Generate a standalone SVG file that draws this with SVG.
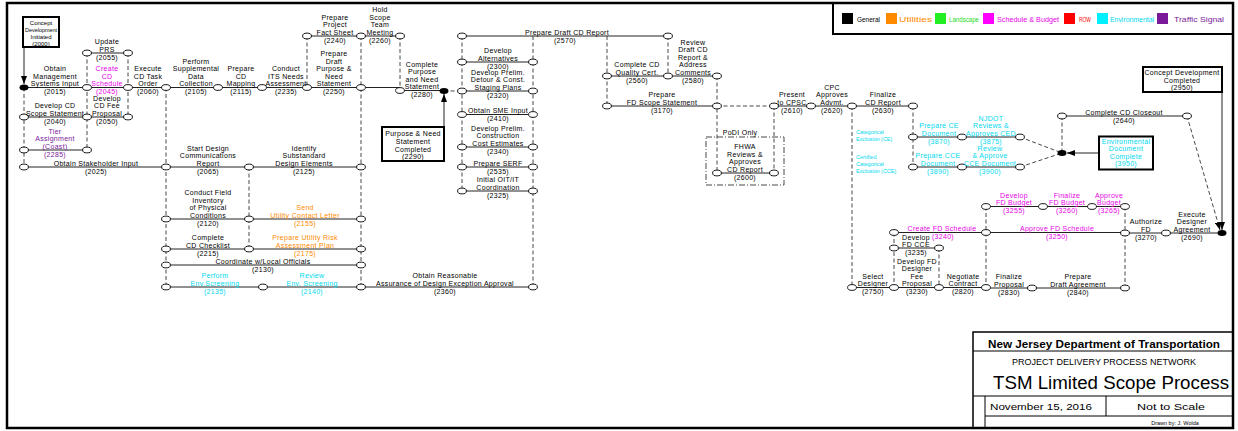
<svg xmlns="http://www.w3.org/2000/svg" width="1238" height="431" viewBox="0 0 1238 431">
<style>
text{font-family:"Liberation Sans",Arial,sans-serif}
.t{font-size:7px;letter-spacing:0.3px;text-anchor:middle;fill:#000}
.s{font-size:6px;text-anchor:middle;fill:#000}
.n{font-size:5.5px;fill:#00d8ee}
.m{fill:#e600e6}.o{fill:#ff8a00}.c{fill:#00d8ee}.p{fill:#7a1a9a}
.act{stroke:#222;stroke-width:1;fill:none}
.dep{stroke:#333;stroke-width:0.9;stroke-dasharray:4 2.5;fill:none}
.ev{fill:#fff;stroke:#000;stroke-width:0.9}
.dot{fill:#000}
.box{fill:#fff;stroke:#000;stroke-width:2}
.lg{font-size:7px}
</style>
<defs>
<marker id="ah" viewBox="0 0 8 6" refX="8" refY="3" markerWidth="8" markerHeight="6" markerUnits="userSpaceOnUse" orient="auto"><path d="M0,0 L8,3 L0,6 z" fill="#000"/></marker>
</defs>
<rect width="1238" height="431" fill="#fff"/>
<rect x="7" y="3" width="1226" height="425" fill="none" stroke="#000" stroke-width="2.5"/>
<g id="legend">
<rect x="833" y="3" width="400" height="31" fill="none" stroke="#000" stroke-width="2"/>
<rect x="842" y="13" width="11" height="11" fill="#000"/><text class="lg" x="857" y="21.5" textLength="23" lengthAdjust="spacingAndGlyphs">General</text>
<rect x="886" y="13" width="11" height="11" fill="#ff8a00"/><text class="lg o" x="899" y="21.5" textLength="33" lengthAdjust="spacingAndGlyphs">Utilities</text>
<rect x="935" y="13" width="11" height="11" fill="#22ee22"/><text class="lg" fill="#22dd22" x="949" y="21.5" textLength="30" lengthAdjust="spacingAndGlyphs">Landscape</text>
<rect x="983" y="13" width="11" height="11" fill="#ff00ff"/><text class="lg m" x="997" y="21.5" textLength="62" lengthAdjust="spacingAndGlyphs">Schedule &amp; Budget</text>
<rect x="1064" y="13" width="11" height="11" fill="#ff0000"/><text class="lg" fill="#ff0000" x="1079" y="21.5" textLength="12" lengthAdjust="spacingAndGlyphs">ROW</text>
<rect x="1097" y="13" width="11" height="11" fill="#00f0ff"/><text class="lg c" x="1110" y="21.5" textLength="44" lengthAdjust="spacingAndGlyphs">Environmental</text>
<rect x="1157" y="13" width="11" height="11" fill="#7a1a9a"/><text class="lg p" x="1174" y="21.5" textLength="50" lengthAdjust="spacingAndGlyphs">Traffic Signal</text>
</g>
<g id="connectors">
<line class="act" x1="24" y1="47" x2="24" y2="84" marker-end="url(#ah)"/>
<line class="act" x1="444" y1="127" x2="444" y2="94" marker-end="url(#ah)"/>
<line class="act" x1="1099" y1="153" x2="1067" y2="153" marker-end="url(#ah)"/>
<line class="act" x1="1222" y1="92" x2="1222" y2="230" marker-end="url(#ah)"/>
<line class="dep" x1="1187" y1="116" x2="1220" y2="230" marker-end="url(#ah)"/>
<path class="act" d="M24,87.5H400 M24,117H128 M24,150H87 M24,167H361 M87,53H128 M307,36H400 M400,90.5H444 M166,219H361 M166,249H361 M166,265H361 M166,287H533"/>
<path class="act" d="M462,36H668 M462,62H533 M462,91H533 M462,114.5H533 M462,147H533 M462,167H533 M462,191H533 M607,76H717 M607,106H717 M774,106H913 M717,173H774"/>
<path class="act" d="M913,137H1020 M913,167H1020 M1062,116H1187 M852,287.5H986 M894,232.5H1125 M894,248H939 M986,206.5H1125 M1125,233H1222 M986,288H1125"/>
<path class="dep" d="M24,87.5V167 M87,53V150 M128,53V117 M166,87.5V287 M249,167V249 M307,36V87.5 M361,36V287 M400,36V90.5 M444,91H462 M462,36V191 M533,36V287 M607,36V106 M668,36V76 M717,76V173 M717,106H774 M774,106V173 M852,106V287.5 M913,106V167 M1020,137L1062,153 M1020,167L1062,153 M1062,116V153 M894,232.5V287.5 M939,248V287.5 M986,206.5V287.5 M1125,206.5V288"/>
<rect x="706" y="137" width="78" height="48" fill="none" stroke="#333" stroke-width="0.9" stroke-dasharray="6 2 1 2"/>
</g>
<g id="events">
<ellipse class="dot" cx="24" cy="87.5" rx="4.5" ry="3"/>
<ellipse class="dot" cx="444" cy="91" rx="4.5" ry="3"/>
<ellipse class="dot" cx="1062" cy="153" rx="4.5" ry="3"/>
<ellipse class="dot" cx="1222" cy="233" rx="4.5" ry="3"/>
<g class="ev">
<ellipse cx="87" cy="53" rx="4.4" ry="2.9"/><ellipse cx="128" cy="53" rx="4.4" ry="2.9"/>
<ellipse cx="87" cy="87.5" rx="4.4" ry="2.9"/><ellipse cx="128" cy="87.5" rx="4.4" ry="2.9"/><ellipse cx="166" cy="87.5" rx="4.4" ry="2.9"/>
<ellipse cx="24" cy="117" rx="4.4" ry="2.9"/><ellipse cx="87" cy="117" rx="4.4" ry="2.9"/><ellipse cx="128" cy="117" rx="4.4" ry="2.9"/>
<ellipse cx="24" cy="150" rx="4.4" ry="2.9"/><ellipse cx="87" cy="150" rx="4.4" ry="2.9"/>
<ellipse cx="24" cy="167" rx="4.4" ry="2.9"/><ellipse cx="166" cy="167" rx="4.4" ry="2.9"/>
<ellipse cx="218" cy="87.5" rx="4.4" ry="2.9"/><ellipse cx="262" cy="87.5" rx="4.4" ry="2.9"/><ellipse cx="307" cy="87.5" rx="4.4" ry="2.9"/><ellipse cx="361" cy="87.5" rx="4.4" ry="2.9"/>
<ellipse cx="307" cy="36" rx="4.4" ry="2.9"/><ellipse cx="361" cy="36" rx="4.4" ry="2.9"/><ellipse cx="400" cy="36" rx="4.4" ry="2.9"/><ellipse cx="400" cy="90.5" rx="4.4" ry="2.9"/>
<ellipse cx="249" cy="167" rx="4.4" ry="2.9"/><ellipse cx="361" cy="167" rx="4.4" ry="2.9"/>
<ellipse cx="166" cy="219" rx="4.4" ry="2.9"/><ellipse cx="249" cy="219" rx="4.4" ry="2.9"/><ellipse cx="361" cy="219" rx="4.4" ry="2.9"/>
<ellipse cx="166" cy="249" rx="4.4" ry="2.9"/><ellipse cx="249" cy="249" rx="4.4" ry="2.9"/><ellipse cx="361" cy="249" rx="4.4" ry="2.9"/>
<ellipse cx="166" cy="265" rx="4.4" ry="2.9"/><ellipse cx="361" cy="265" rx="4.4" ry="2.9"/>
<ellipse cx="166" cy="287" rx="4.4" ry="2.9"/><ellipse cx="263" cy="287" rx="4.4" ry="2.9"/><ellipse cx="361" cy="287" rx="4.4" ry="2.9"/><ellipse cx="533" cy="287" rx="4.4" ry="2.9"/>
<ellipse cx="462" cy="36" rx="4.4" ry="2.9"/><ellipse cx="668" cy="36" rx="4.4" ry="2.9"/>
<ellipse cx="462" cy="62" rx="4.4" ry="2.9"/><ellipse cx="533" cy="62" rx="4.4" ry="2.9"/>
<ellipse cx="462" cy="91" rx="4.4" ry="2.9"/><ellipse cx="533" cy="91" rx="4.4" ry="2.9"/>
<ellipse cx="462" cy="114.5" rx="4.4" ry="2.9"/><ellipse cx="533" cy="114.5" rx="4.4" ry="2.9"/>
<ellipse cx="462" cy="147" rx="4.4" ry="2.9"/><ellipse cx="533" cy="147" rx="4.4" ry="2.9"/>
<ellipse cx="462" cy="167" rx="4.4" ry="2.9"/><ellipse cx="533" cy="167" rx="4.4" ry="2.9"/>
<ellipse cx="462" cy="191" rx="4.4" ry="2.9"/><ellipse cx="533" cy="191" rx="4.4" ry="2.9"/>
<ellipse cx="607" cy="76" rx="4.4" ry="2.9"/><ellipse cx="668" cy="76" rx="4.4" ry="2.9"/><ellipse cx="717" cy="76" rx="4.4" ry="2.9"/>
<ellipse cx="607" cy="106" rx="4.4" ry="2.9"/><ellipse cx="717" cy="106" rx="4.4" ry="2.9"/><ellipse cx="774" cy="106" rx="4.4" ry="2.9"/><ellipse cx="811" cy="106" rx="4.4" ry="2.9"/><ellipse cx="852" cy="106" rx="4.4" ry="2.9"/><ellipse cx="913" cy="106" rx="4.4" ry="2.9"/>
<ellipse cx="717" cy="173" rx="4.4" ry="2.9"/><ellipse cx="774" cy="173" rx="4.4" ry="2.9"/>
<ellipse cx="913" cy="137" rx="4.4" ry="2.9"/><ellipse cx="962" cy="137" rx="4.4" ry="2.9"/><ellipse cx="1020" cy="137" rx="4.4" ry="2.9"/>
<ellipse cx="913" cy="167" rx="4.4" ry="2.9"/><ellipse cx="962" cy="167" rx="4.4" ry="2.9"/><ellipse cx="1020" cy="167" rx="4.4" ry="2.9"/>
<ellipse cx="1062" cy="116" rx="4.4" ry="2.9"/><ellipse cx="1187" cy="116" rx="4.4" ry="2.9"/>
<ellipse cx="852" cy="287.5" rx="4.4" ry="2.9"/><ellipse cx="894" cy="287.5" rx="4.4" ry="2.9"/><ellipse cx="939" cy="287.5" rx="4.4" ry="2.9"/><ellipse cx="986" cy="287.5" rx="4.4" ry="2.9"/>
<ellipse cx="894" cy="232.5" rx="4.4" ry="2.9"/><ellipse cx="986" cy="232.5" rx="4.4" ry="2.9"/>
<ellipse cx="894" cy="248" rx="4.4" ry="2.9"/><ellipse cx="939" cy="248" rx="4.4" ry="2.9"/>
<ellipse cx="986" cy="206.5" rx="4.4" ry="2.9"/><ellipse cx="1043" cy="206.5" rx="4.4" ry="2.9"/><ellipse cx="1092" cy="206.5" rx="4.4" ry="2.9"/><ellipse cx="1125" cy="206.5" rx="4.4" ry="2.9"/>
<ellipse cx="1125" cy="233" rx="4.4" ry="2.9"/><ellipse cx="1166" cy="233" rx="4.4" ry="2.9"/>
<ellipse cx="1032" cy="288" rx="4.4" ry="2.9"/><ellipse cx="1125" cy="288" rx="4.4" ry="2.9"/>
</g>
</g>
<g id="m2000"><rect class="box" x="23" y="17" width="36" height="30"/>
<text class="s" x="41" y="25">Concept</text><text class="s" x="41" y="32" textLength="32" lengthAdjust="spacingAndGlyphs">Development</text><text class="s" x="41" y="39">Initiated</text><text class="s" x="41" y="46">(2000)</text></g>
<g id="m2290"><rect class="box" x="382" y="127" width="62" height="34"/>
<text class="t" x="413" y="135.5">Purpose &amp; Need</text><text class="t" x="413" y="143.5">Statement</text><text class="t" x="413" y="151.5">Completed</text><text class="t" x="413" y="159">(2290)</text></g>
<g id="m3950"><rect class="box" x="1099" y="136.5" width="54" height="33"/>
<text class="t c" x="1126" y="143.5">Environmental</text><text class="t c" x="1126" y="151">Document</text><text class="t c" x="1126" y="158.5">Complete</text><text class="t c" x="1126" y="166">(3950)</text></g>
<g id="m2950"><rect class="box" x="1143" y="67" width="79" height="25"/>
<text class="t" x="1182" y="74.5">Concept Development</text><text class="t" x="1182" y="82.5">Completed</text><text class="t" x="1182" y="90">(2950)</text></g>
<g id="a2015"><text class="t" x="55" y="71">Obtain</text><text class="t" x="55" y="78.5">Management</text><text class="t" x="55" y="86">Systems Input</text><text class="t" x="55" y="94">(2015)</text></g>
<g id="a2040"><text class="t" x="55" y="108">Develop CD</text><text class="t" x="55" y="115.5">Scope Statement</text><text class="t" x="55" y="123.5">(2040)</text></g>
<g id="a2285"><text class="t p" x="55" y="133.5">Tier</text><text class="t p" x="55" y="141">Assignment</text><text class="t p" x="55" y="148.5">(Coast)</text><text class="t p" x="55" y="156.5">(2285)</text></g>
<g id="a2025"><text class="t" x="96" y="165.5">Obtain Stakeholder Input</text><text class="t" x="96" y="173.5">(2025)</text></g>
<g id="a2055"><text class="t" x="107" y="44">Update</text><text class="t" x="107" y="51.5">PRS</text><text class="t" x="107" y="59.5">(2055)</text></g>
<g id="a2045"><text class="t m" x="107" y="71">Create</text><text class="t m" x="107" y="78.5">CD</text><text class="t m" x="107" y="86">Schedule</text><text class="t m" x="107" y="94">(2045)</text></g>
<g id="a2050"><text class="t" x="107" y="100.5">Develop</text><text class="t" x="107" y="108">CD Fee</text><text class="t" x="107" y="115.5">Proposal</text><text class="t" x="107" y="123.5">(2050)</text></g>
<g id="a2060"><text class="t" x="148" y="71">Execute</text><text class="t" x="148" y="78.5">CD Task</text><text class="t" x="148" y="86">Order</text><text class="t" x="148" y="94">(2060)</text></g>
<g id="a2105"><text class="t" x="196" y="63.5">Perform</text><text class="t" x="196" y="71">Supplemental</text><text class="t" x="196" y="78.5">Data</text><text class="t" x="196" y="86">Collection</text><text class="t" x="196" y="94">(2105)</text></g>
<g id="a2115"><text class="t" x="241" y="71">Prepare</text><text class="t" x="241" y="78.5">CD</text><text class="t" x="241" y="86">Mapping</text><text class="t" x="241" y="94">(2115)</text></g>
<g id="a2235"><text class="t" x="286" y="71">Conduct</text><text class="t" x="286" y="78.5">ITS Needs</text><text class="t" x="286" y="86">Assessment</text><text class="t" x="286" y="94">(2235)</text></g>
<g id="a2250"><text class="t" x="334" y="56">Prepare</text><text class="t" x="334" y="63.5">Draft</text><text class="t" x="334" y="71">Purpose &amp;</text><text class="t" x="334" y="78.5">Need</text><text class="t" x="334" y="86">Statement</text><text class="t" x="334" y="94">(2250)</text></g>
<g id="a2240"><text class="t" x="335" y="19.5">Prepare</text><text class="t" x="335" y="27">Project</text><text class="t" x="335" y="34.5">Fact Sheet</text><text class="t" x="335" y="42.5">(2240)</text></g>
<g id="a2260"><text class="t" x="380" y="12">Hold</text><text class="t" x="380" y="19.5">Scope</text><text class="t" x="380" y="27">Team</text><text class="t" x="380" y="34.5">Meeting</text><text class="t" x="380" y="42.5">(2260)</text></g>
<g id="a2280"><text class="t" x="422" y="66.5">Complete</text><text class="t" x="422" y="74">Purpose</text><text class="t" x="422" y="81.5">and Need</text><text class="t" x="422" y="89">Statement</text><text class="t" x="422" y="97">(2280)</text></g>
<g id="a2065"><text class="t" x="208" y="150.5">Start Design</text><text class="t" x="208" y="158">Communications</text><text class="t" x="208" y="165.5">Report</text><text class="t" x="208" y="173.5">(2065)</text></g>
<g id="a2125"><text class="t" x="304" y="150.5">Identify</text><text class="t" x="304" y="158">Substandard</text><text class="t" x="304" y="165.5">Design Elements</text><text class="t" x="304" y="173.5">(2125)</text></g>
<g id="a2120"><text class="t" x="208" y="195">Conduct Field</text><text class="t" x="208" y="202.5">Inventory</text><text class="t" x="208" y="210">of Physical</text><text class="t" x="208" y="217.5">Conditions</text><text class="t" x="208" y="225.5">(2120)</text></g>
<g id="a2155"><text class="t o" x="305" y="210">Send</text><text class="t o" x="305" y="217.5">Utility Contact Letter</text><text class="t o" x="305" y="225.5">(2155)</text></g>
<g id="a2215"><text class="t" x="208" y="240">Complete</text><text class="t" x="208" y="247.5">CD Checklist</text><text class="t" x="208" y="255.5">(2215)</text></g>
<g id="a2175"><text class="t o" x="305" y="240">Prepare Utility Risk</text><text class="t o" x="305" y="247.5">Assessment Plan</text><text class="t o" x="305" y="255.5">(2175)</text></g>
<g id="a2130"><text class="t" x="263" y="263.5">Coordinate w/Local Officials</text><text class="t" x="263" y="271.5">(2130)</text></g>
<g id="a2135"><text class="t c" x="215" y="278">Perform</text><text class="t c" x="215" y="285.5">Env.Screening</text><text class="t c" x="215" y="293.5">(2135)</text></g>
<g id="a2140"><text class="t c" x="312" y="278">Review</text><text class="t c" x="312" y="285.5">Env. Screening</text><text class="t c" x="312" y="293.5">(2140)</text></g>
<g id="a2360"><text class="t" x="445" y="278">Obtain Reasonable</text><text class="t" x="445" y="285.5">Assurance of Design Exception Approval</text><text class="t" x="445" y="293.5">(2360)</text></g>
<g id="a2570"><text class="t" x="567" y="34.5">Prepare Draft CD Report</text><text class="t" x="565" y="42.5">(2570)</text></g>
<g id="a2300"><text class="t" x="498" y="53">Develop</text><text class="t" x="498" y="60.5">Alternatives</text><text class="t" x="498" y="68.5">(2300)</text></g>
<g id="a2320"><text class="t" x="498" y="74.5">Develop Prelim.</text><text class="t" x="498" y="82">Detour &amp; Const.</text><text class="t" x="498" y="89.5">Staging Plans</text><text class="t" x="498" y="97.5">(2320)</text></g>
<g id="a2410"><text class="t" x="498" y="113">Obtain SME Input</text><text class="t" x="498" y="121">(2410)</text></g>
<g id="a2340"><text class="t" x="498" y="130.5">Develop Prelim.</text><text class="t" x="498" y="138">Construction</text><text class="t" x="498" y="145.5">Cost Estimates</text><text class="t" x="498" y="153.5">(2340)</text></g>
<g id="a2535"><text class="t" x="498" y="165.5">Prepare SERF</text><text class="t" x="498" y="173.5">(2535)</text></g>
<g id="a2325"><text class="t" x="498" y="182">Initial OIT/IT</text><text class="t" x="498" y="189.5">Coordination</text><text class="t" x="498" y="197.5">(2325)</text></g>
<g id="a2560"><text class="t" x="637" y="67">Complete CD</text><text class="t" x="637" y="74.5">Quality Cert.</text><text class="t" x="637" y="82.5">(2560)</text></g>
<g id="a2580"><text class="t" x="693" y="44.5">Review</text><text class="t" x="693" y="52">Draft CD</text><text class="t" x="693" y="59.5">Report &amp;</text><text class="t" x="693" y="67">Address</text><text class="t" x="693" y="74.5">Comments</text><text class="t" x="693" y="82.5">(2580)</text></g>
<g id="a3170"><text class="t" x="662" y="97">Prepare</text><text class="t" x="662" y="104.5">FD Scope Statement</text><text class="t" x="662" y="112.5">(3170)</text></g>
<g id="a2600"><text class="t" x="740" y="135">PoDI Only</text><text class="t" x="745" y="149">FHWA</text><text class="t" x="745" y="156.5">Reviews &amp;</text><text class="t" x="745" y="164">Approves</text><text class="t" x="745" y="171.5">CD Report</text><text class="t" x="745" y="179.5">(2600)</text></g>
<g id="a2610"><text class="t" x="792" y="97">Present</text><text class="t" x="792" y="104.5">to CPSC</text><text class="t" x="792" y="112.5">(2610)</text></g>
<g id="a2620"><text class="t" x="832" y="89.5">CPC</text><text class="t" x="832" y="97">Approves</text><text class="t" x="832" y="104.5">Advmt.</text><text class="t" x="832" y="112.5">(2620)</text></g>
<g id="a2630"><text class="t" x="883" y="97">Finalize</text><text class="t" x="883" y="104.5">CD Report</text><text class="t" x="883" y="112.5">(2630)</text></g>
<g id="ce"><text class="n" x="856" y="134">Categorical</text><text class="n" x="856" y="141">Exclusion (CE)</text><text class="n" x="856" y="159">Certified</text><text class="n" x="856" y="166">Categorical</text><text class="n" x="856" y="173">Exclusion (CCE)</text></g>
<g id="a3870"><text class="t c" x="939" y="128">Prepare CE</text><text class="t c" x="939" y="135.5">Document</text><text class="t c" x="939" y="143.5">(3870)</text></g>
<g id="a3875"><text class="t c" x="991" y="120.5">NJDOT</text><text class="t c" x="991" y="128">Reviews &amp;</text><text class="t c" x="991" y="135.5">Approves CED</text><text class="t c" x="991" y="143.5">(3875)</text></g>
<g id="a3890"><text class="t c" x="938" y="158">Prepare CCE</text><text class="t c" x="938" y="165.5">Document</text><text class="t c" x="938" y="173.5">(3890)</text></g>
<g id="a3900"><text class="t c" x="990" y="150.5">Review</text><text class="t c" x="990" y="158">&amp; Approve</text><text class="t c" x="990" y="165.5">CCE Document</text><text class="t c" x="990" y="173.5">(3900)</text></g>
<g id="a2640"><text class="t" x="1124" y="114.5">Complete CD Closeout</text><text class="t" x="1124" y="122.5">(2640)</text></g>
<g id="a2750"><text class="t" x="873" y="278.5">Select</text><text class="t" x="873" y="286">Designer</text><text class="t" x="873" y="294">(2750)</text></g>
<g id="a3240"><text class="t m" x="942" y="231">Create FD Schedule</text><text class="t m" x="943" y="239">(3240)</text></g>
<g id="a3235"><text class="t" x="916" y="239.5">Develop</text><text class="t" x="916" y="246.5">FD CCE</text><text class="t" x="916" y="254.5">(3235)</text></g>
<g id="a3230"><text class="t" x="917" y="263.5">Develop FD</text><text class="t" x="917" y="271">Designer</text><text class="t" x="917" y="278.5">Fee</text><text class="t" x="917" y="286">Proposal</text><text class="t" x="917" y="294">(3230)</text></g>
<g id="a2820"><text class="t" x="963" y="278.5">Negotiate</text><text class="t" x="963" y="286">Contract</text><text class="t" x="963" y="294">(2820)</text></g>
<g id="a3255"><text class="t m" x="1014" y="197.5">Develop</text><text class="t m" x="1014" y="205">FD Budget</text><text class="t m" x="1014" y="213">(3255)</text></g>
<g id="a3260"><text class="t m" x="1067" y="197.5">Finalize</text><text class="t m" x="1067" y="205">FD Budget</text><text class="t m" x="1067" y="213">(3260)</text></g>
<g id="a3265"><text class="t m" x="1109" y="197.5">Approve</text><text class="t m" x="1109" y="205">Budget</text><text class="t m" x="1109" y="213">(3265)</text></g>
<g id="a3250"><text class="t m" x="1057" y="231">Approve FD Schedule</text><text class="t m" x="1057" y="239">(3250)</text></g>
<g id="a3270"><text class="t" x="1146" y="224">Authorize</text><text class="t" x="1146" y="231.5">FD</text><text class="t" x="1146" y="239.5">(3270)</text></g>
<g id="a2690"><text class="t" x="1192" y="216.5">Execute</text><text class="t" x="1192" y="224">Designer</text><text class="t" x="1192" y="231.5">Agreement</text><text class="t" x="1192" y="239.5">(2690)</text></g>
<g id="a2830"><text class="t" x="1009" y="279">Finalize</text><text class="t" x="1009" y="286.5">Proposal</text><text class="t" x="1009" y="294.5">(2830)</text></g>
<g id="a2840"><text class="t" x="1078" y="279">Prepare</text><text class="t" x="1078" y="286.5">Draft Agreement</text><text class="t" x="1078" y="294.5">(2840)</text></g>
<g id="titleblock">
<rect x="973" y="332" width="260" height="96" fill="none" stroke="#000" stroke-width="1.5"/>
<path d="M973,351H1233 M973,396H1233 M985,416H1233 M1106,396V416 M985,396V428" stroke="#000" stroke-width="1" fill="none"/>
<text x="1104" y="347.5" font-size="10.5" font-weight="bold" text-anchor="middle" textLength="232" lengthAdjust="spacingAndGlyphs">New Jersey Department of Transportation</text>
<text x="1104" y="365" font-size="9" text-anchor="middle" textLength="184" lengthAdjust="spacingAndGlyphs">PROJECT DELIVERY PROCESS NETWORK</text>
<text x="1111" y="389" font-size="18" text-anchor="middle" textLength="236" lengthAdjust="spacingAndGlyphs">TSM Limited Scope Process</text>
<text x="1041" y="410" font-size="9.5" text-anchor="middle" textLength="102" lengthAdjust="spacingAndGlyphs">November 15, 2016</text>
<text x="1171" y="410" font-size="9.5" text-anchor="middle" textLength="68" lengthAdjust="spacingAndGlyphs">Not to Scale</text>
<text x="1175" y="424.5" font-size="5.5" text-anchor="middle">Drawn by: J. Wolda</text>
</g>
</svg>
